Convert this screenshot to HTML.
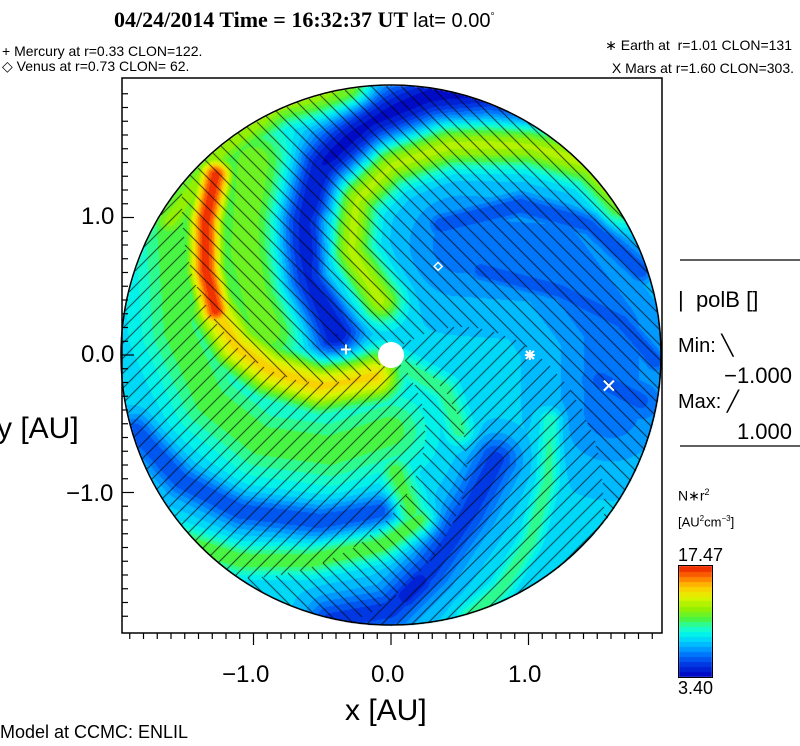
<!DOCTYPE html>
<html><head><meta charset="utf-8">
<style>
body{margin:0;background:#fff;width:800px;height:746px;overflow:hidden;position:relative;font-family:"Liberation Sans",sans-serif;}
.t{position:absolute;white-space:nowrap;color:#000;line-height:1;}
</style></head>
<body>
<div class="t" style="left:114px;top:9px;font-family:'Liberation Serif',serif;font-weight:bold;font-size:22px;">04/24/2014 Time = 16:32:37 UT <span style="font-family:'Liberation Sans',sans-serif;font-weight:normal;font-size:20px;">lat= 0.00<sup style="font-size:10px">°</sup></span></div>
<div class="t" style="left:2px;top:44px;font-size:14px;">+ Mercury at r=0.33 CLON=122.</div>
<div class="t" style="left:2px;top:59px;font-size:14px;">◇ Venus at r=0.73 CLON= 62.</div>
<div class="t" style="right:8px;top:38px;font-size:14px;">∗ Earth at &nbsp;r=1.01 CLON=131</div>
<div class="t" style="right:6px;top:61px;font-size:14px;">X Mars at r=1.60 CLON=303.</div>

<canvas id="fieldcv" width="800" height="746" style="position:absolute;left:0;top:0"></canvas>
<svg id="fieldsvg" width="800" height="746" style="position:absolute;left:0;top:0"></svg>
<svg id="ovsvg" width="800" height="746" style="position:absolute;left:0;top:0"></svg>

<div class="t" style="left:81px;top:205px;font-size:24px;">1.0</div>
<div class="t" style="left:81px;top:343px;font-size:24px;">0.0</div>
<div class="t" style="left:66px;top:482px;font-size:24px;">−1.0</div>
<div class="t" style="left:-3px;top:414px;font-size:30px;">y [AU]</div>
<div class="t" style="left:222px;top:663px;font-size:24px;">−1.0</div>
<div class="t" style="left:371px;top:663px;font-size:24px;">0.0</div>
<div class="t" style="left:508px;top:663px;font-size:24px;">1.0</div>
<div class="t" style="left:345px;top:696px;font-size:30px;">x [AU]</div>
<div class="t" style="left:0px;top:723px;font-size:18px;">Model at CCMC: ENLIL</div>

<div class="t" style="left:678px;top:289px;font-size:22px;">| &nbsp;polB []</div>
<div class="t" style="left:678px;top:336px;font-size:20px;">Min: ╲</div>
<div class="t" style="right:8px;top:365px;font-size:22px;">−1.000</div>
<div class="t" style="left:678px;top:392px;font-size:20px;">Max: ╱</div>
<div class="t" style="right:8px;top:421px;font-size:22px;">1.000</div>
<div class="t" style="left:678px;top:488px;font-size:14px;">N∗r<sup style="font-size:9px">2</sup></div>
<div class="t" style="left:678px;top:515px;font-size:13px;">[AU<sup style="font-size:8px">2</sup>cm<sup style="font-size:8px">−3</sup>]</div>
<div class="t" style="left:678px;top:546px;font-size:18px;">17.47</div>
<div class="t" style="left:678px;top:679px;font-size:18px;">3.40</div>

<script>
// ---- data ----
var vMin = 3.40, vMax = 17.47;
var baseValue = 8.0;
var xTicks = [-1.0, 0.0, 1.0];
var armNames = ['red-front','warm-inner','warm-broad','outer-yellow','green-left','dark-blue','yellow-green-ne','blue-ne1','blue-ne2','blue-mars','blue-south','blue-south-dark','green-se1','green-se1b','green-se2','blue-sw','yellowgreen-sw','ne-blue-region','green-inner-n'];
var armPoints = [
 [[-1.28,1.31],[-1.35,0.98],[-1.35,0.62],[-1.28,0.33]],
 [[-1.28,0.33],[-1.13,0.07],[-0.88,-0.11],[-0.52,-0.22],[-0.12,-0.15]],
 [[-1.0,1.4],[-1.05,0.76],[-0.9,0.2]],
 [[-1.61,0.98],[-1.24,1.49],[-0.81,1.82],[-0.3,1.93]],
 [[-1.6,0.9],[-1.55,0.18],[-1.32,-0.33],[-0.95,-0.62],[-0.44,-0.69],[-0.01,-0.55]],
 [[-0.41,0.15],[-0.63,0.55],[-0.66,0.98],[-0.52,1.38],[-0.15,1.71],[0.28,1.89],[0.72,1.93],[1.08,1.85]],
 [[-0.08,0.4],[-0.3,0.76],[-0.26,1.13],[-0.01,1.38],[0.43,1.53],[1.01,1.53],[1.45,1.38],[1.67,1.13]],
 [[0.36,0.95],[0.94,1.09],[1.45,0.95],[1.81,0.62]],
 [[0.65,0.62],[1.23,0.47],[1.67,0.25],[1.92,-0.04]],
 [[1.52,-0.18],[1.81,-0.33]],
 [[0.76,-0.76],[0.57,-1.13],[0.28,-1.56],[-0.01,-1.85],[-0.44,-1.93]],
 [[0.21,-1.64],[0.1,-1.75]],
 [[0.07,-0.07],[0.39,-0.25],[0.5,-0.55]],
 [[0.03,-0.84],[0.14,-1.13]],
 [[1.16,-0.47],[1.14,-0.91],[1.01,-1.35],[0.79,-1.71],[0.57,-1.89]],
 [[-1.86,-0.55],[-1.53,-0.91],[-1.1,-1.13],[-0.52,-1.2],[-0.08,-1.13]],
 [[-1.53,-1.35],[-1.1,-1.49],[-0.59,-1.49],[-0.08,-1.38],[0.21,-1.2]],
 [[0.5,0.8],[1.2,0.75],[1.6,0.2],[1.6,-0.4]],
 [[-0.2,0.3],[-0.45,0.6],[-0.45,1.0]]
];
var armPeaks = [17.2,14.5,11.6,12.0,10.8,3.8,12.6,5.4,5.4,5.8,5.0,4.2,10.2,10.8,10.2,5.4,11.0,6.2,9.6];
var armWidths = [0.13,0.18,0.3,0.15,0.28,0.19,0.16,0.1,0.09,0.2,0.17,0.12,0.1,0.12,0.08,0.12,0.11,0.4,0.08];
var spiralK = 43;
var posSectors = [[225,320],[346,406]];
var planetNames = ['mercury','venus','earth','mars'];
var planetR = [0.33,0.73,1.01,1.60];
var planetAng = [173,62,0,-8];
var planetSym = ['+','diamond','star','x'];

// ---- geometry ----
var cx = 391, cy = 355, sc = 137.5, RAD = 270;
var fL = 122, fT = 78, fR = 662, fB = 633;
function sx(x){ return cx + x*sc; }
function sy(y){ return cy - y*sc; }

var stops = [[0,[0,0,190]],[0.12,[0,60,230]],[0.22,[0,130,255]],[0.3,[0,190,255]],[0.38,[0,240,240]],[0.45,[30,255,190]],[0.52,[70,245,70]],[0.62,[150,240,0]],[0.72,[225,245,0]],[0.82,[255,200,0]],[0.9,[255,120,0]],[1,[235,30,0]]];
function cmap(t){
  t = Math.max(0,Math.min(0.9999,t)); t = (Math.floor(t*22)+0.5)/22;
  for(var i=1;i<stops.length;i++){
    if(t<=stops[i][0]){
      var a=stops[i-1],b=stops[i],f=(t-a[0])/(b[0]-a[0]);
      return [Math.round(a[1][0]+(b[1][0]-a[1][0])*f),Math.round(a[1][1]+(b[1][1]-a[1][1])*f),Math.round(a[1][2]+(b[1][2]-a[1][2])*f)];
    }
  }
  return stops[stops.length-1][1].slice();
}
function segDist(px,py,ax,ay,bx,by){var dx=bx-ax,dy=by-ay;var t=((px-ax)*dx+(py-ay)*dy)/(dx*dx+dy*dy);t=Math.max(0,Math.min(1,t));var ex=ax+t*dx-px,ey=ay+t*dy-py;return Math.sqrt(ex*ex+ey*ey);}
function valueAt(x,y){
  var pos=0,neg=0;
  for(var a=0;a<armPoints.length;a++){
    var p=armPoints[a],m=1e9;
    for(var s=0;s<p.length-1;s++){var dd=segDist(x,y,p[s][0],p[s][1],p[s+1][0],p[s+1][1]);if(dd<m)m=dd;}
    var q=m/armWidths[a];
    var c=(armPeaks[a]-baseValue)*Math.exp(-q*q);
    if(c>pos)pos=c; if(c<neg)neg=c;
  }
  return baseValue+pos+neg;
}
function isPositive(x,y){
  var r=Math.sqrt(x*x+y*y),phi=Math.atan2(y,x)*180/Math.PI; if(phi<0)phi+=360;
  var psi=(phi+spiralK*r)%360;
  for(var i=0;i<posSectors.length;i++){var s=posSectors[i];
    if((psi>=s[0]&&psi<=s[1])||(psi+360>=s[0]&&psi+360<=s[1])) return true;}
  return false;
}

var NS='http://www.w3.org/2000/svg';
var ov=document.getElementById('ovsvg');
function el(parent,tag,attrs){var e=document.createElementNS(NS,tag);for(var k in attrs)e.setAttribute(k,attrs[k]);parent.appendChild(e);return e;}

var e;
e=el(ov,'circle',{cx:cx,cy:cy,r:RAD,fill:'none',stroke:'#000','stroke-width':1.5});


e=el(ov,'rect',{x:fL,y:fT,width:fR-fL,height:fB-fT,fill:'none',stroke:'#000','stroke-width':1.5});


e=el(ov,'rect',{x:678.5,y:565.5,width:34,height:112,fill:'none',stroke:'#000','stroke-width':1});


e=el(ov,'circle',{cx:cx,cy:cy,r:13,fill:'#fff'});


for(var i=-19;i<=19;i++){
  var v=i/10, X=sx(v);
  var major=false; for(var j=0;j<xTicks.length;j++) if(Math.abs(xTicks[j]-v)<1e-6) major=true;
  if(X>=fL&&X<=fR){
    e=el(ov,'line',{x1:X,y1:fB,x2:X,y2:fB+(major?12:6),stroke:'#000','stroke-width':1.2});
    
    
  }
  var Y=sy(v);
  if(Y>=fT&&Y<=fB){
    e=el(ov,'line',{x1:fL,y1:Y,x2:fL+(major?12:6),y2:Y,stroke:'#000','stroke-width':1.2});
    
    
  }
}
e=el(ov,'line',{x1:680,y1:260,x2:800,y2:260,stroke:'#000','stroke-width':1.2});


e=el(ov,'line',{x1:680,y1:446,x2:800,y2:446,stroke:'#000','stroke-width':1.2});


for(var pi=0;pi<planetNames.length;pi++){
  var ang=planetAng[pi]*Math.PI/180, PX=sx(planetR[pi]*Math.cos(ang)), PY=sy(planetR[pi]*Math.sin(ang));
  var g=el(ov,'g',{stroke:'#fff','stroke-width':2,fill:'none'});
  
  
  var sym=planetSym[pi], L=5;
  if(sym==='+'){el(g,'line',{x1:PX-L,y1:PY,x2:PX+L,y2:PY});el(g,'line',{x1:PX,y1:PY-L,x2:PX,y2:PY+L});}
  else if(sym==='diamond'){el(g,'polygon',{points:PX+','+(PY-4)+' '+(PX+4)+','+PY+' '+PX+','+(PY+4)+' '+(PX-4)+','+PY,'stroke-width':1.5});}
  else if(sym==='star'){el(g,'line',{x1:PX-L,y1:PY,x2:PX+L,y2:PY});el(g,'line',{x1:PX,y1:PY-L,x2:PX,y2:PY+L});el(g,'line',{x1:PX-4,y1:PY-4,x2:PX+4,y2:PY+4});el(g,'line',{x1:PX-4,y1:PY+4,x2:PX+4,y2:PY-4});}
  else {el(g,'line',{x1:PX-L,y1:PY-L,x2:PX+L,y2:PY+L});el(g,'line',{x1:PX-L,y1:PY+L,x2:PX+L,y2:PY-L});}
}

var drawn=false;
try{
  var cv=document.getElementById('fieldcv');
  var ctx=cv.getContext('2d');
  var img=ctx.createImageData(800,746), d=img.data;
  for(var py=fT;py<=fB;py++){
    for(var px=fL;px<=fR;px++){
      var ddx=px-cx, ddy=py-cy; if(ddx*ddx+ddy*ddy>RAD*RAD) continue;
      var x=ddx/sc, y=-ddy/sc;
      var col=cmap((valueAt(x,y)-vMin)/(vMax-vMin));
      var hv=isPositive(x,y)?((px+py)%15===0):((((px-py)%15)+15)%15===0);
      if(hv) col=[0,0,0];
      var k=(py*800+px)*4; d[k]=col[0];d[k+1]=col[1];d[k+2]=col[2];d[k+3]=255;
    }
  }
  for(var cyy=566;cyy<=676;cyy++){
    var cc=cmap((676-cyy)/110);
    for(var cxx=679;cxx<=711;cxx++){var kk=(cyy*800+cxx)*4;d[kk]=cc[0];d[kk+1]=cc[1];d[kk+2]=cc[2];d[kk+3]=255;}
  }
  ctx.putImageData(img,0,0);
  drawn=true;
}catch(err){ drawn=false; }

if(!drawn){
  var fs=document.getElementById('fieldsvg'), step=4, html='';
  for(var qy=fT;qy<=fB;qy+=step){
    for(var qx=fL;qx<=fR;qx+=step){
      var ex2=qx+step/2-cx, ey2=qy+step/2-cy; if(ex2*ex2+ey2*ey2>RAD*RAD) continue;
      var c2=cmap((valueAt(ex2/sc,-ey2/sc)-vMin)/(vMax-vMin));
      html+='<rect x="'+qx+'" y="'+qy+'" width="'+step+'" height="'+step+'" fill="rgb('+c2[0]+','+c2[1]+','+c2[2]+')"/>';
    }
  }
  for(var by=566;by<=676;by+=2){var c3=cmap((676-by)/110);html+='<rect x="679" y="'+by+'" width="33" height="2" fill="rgb('+c3[0]+','+c3[1]+','+c3[2]+')"/>';}
  fs.innerHTML=html;
}
</script>
</body></html>
